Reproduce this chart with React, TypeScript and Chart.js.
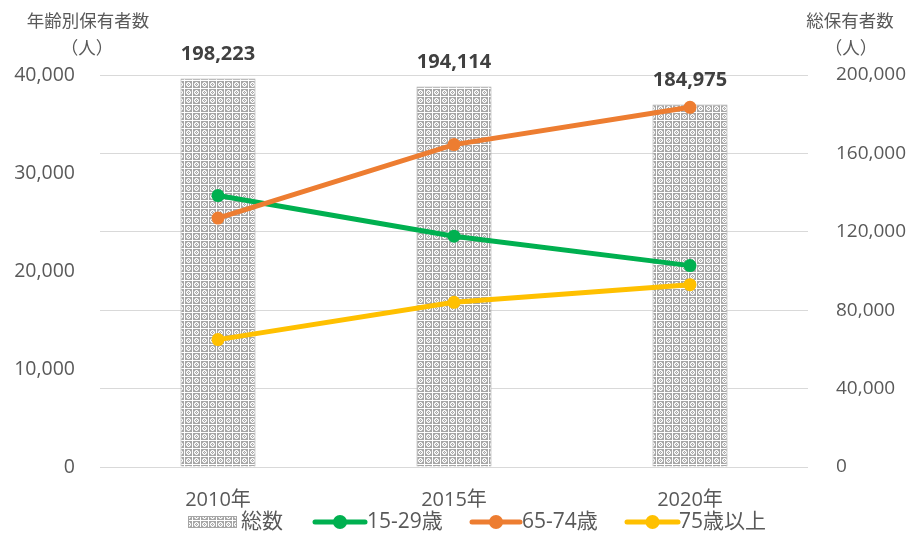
import React, { useEffect, useRef } from "react";
import { Chart, registerables } from "chart.js";

Chart.register(...registerables);

const categories = ["2010年", "2015年", "2020年"];
const totalHolders = [198223, 194114, 184975];
const age15to29 = [27700, 23550, 20550];
const age65to74 = [25400, 32900, 36700];
const age75plus = [13000, 16800, 18600];

const leftTicks = [0, 10000, 20000, 30000, 40000];
const rightTicks = [0, 40000, 80000, 120000, 160000, 200000];

const GREEN = "#00B050";
const ORANGE = "#ED7D31";
const YELLOW = "#FFC000";
const TEXT = "#595959";
const FONT = "'Open Sans', 'Noto Sans CJK JP', sans-serif";
const CJK = "'Noto Sans CJK JP', sans-serif";

function makePattern(): CanvasPattern | string {
  const c = document.createElement("canvas");
  c.width = 8;
  c.height = 8;
  const g = c.getContext("2d");
  if (!g) return "#BFBFBF";
  g.fillStyle = "#A6A6A6";
  g.fillRect(0, 0, 8, 8);
  g.fillStyle = "#FFFFFF";
  g.fillRect(0, 0, 8, 1);
  g.fillRect(0, 0, 1, 8);
  const ring = [
    [4, 2], [3, 3], [5, 3], [2, 4], [6, 4], [3, 5], [5, 5], [4, 6],
  ];
  ring.forEach(([x, y]) => g.fillRect(x, y, 1, 1));
  g.fillStyle = "#E0E0E0";
  const soft = [[3, 2], [5, 2], [2, 3], [6, 3], [2, 5], [6, 5], [3, 6], [5, 6], [4, 4]];
  soft.forEach(([x, y]) => g.fillRect(x, y, 1, 1));
  const p = g.createPattern(c, "repeat");
  return p || "#BFBFBF";
}

export default function App() {
  const ref = useRef<HTMLCanvasElement | null>(null);

  useEffect(() => {
    const canvas = ref.current;
    if (!canvas) return;
    const pattern = makePattern();

    const overlay = {
      id: "overlay",
      afterDraw(chart: any) {
        const ctx = chart.ctx as CanvasRenderingContext2D;
        ctx.save();
        // bar value labels
        const meta = chart.getDatasetMeta(3);
        ctx.font = `bold 20px ${FONT}`;
        ctx.fillStyle = "#404040";
        ctx.textAlign = "center";
        ctx.textBaseline = "middle";
        meta.data.forEach((el: any, i: number) => {
          ctx.fillText(totalHolders[i].toLocaleString("en-US"), el.x, el.y - 24);
        });
        // axis titles
        ctx.font = `17.5px ${CJK}`;
        ctx.fillStyle = TEXT;
        ctx.fillText("年齢別保有者数", 88, 20);
        ctx.fillText("（人）", 87, 47);
        ctx.fillText("総保有者数", 850, 20);
        ctx.fillText("（人）", 851, 47);
        // legend
        const ly = 522;
        ctx.fillStyle = pattern as any;
        ctx.fillRect(188, 516, 49, 12);
        ctx.strokeStyle = "#A6A6A6";
        ctx.lineWidth = 1;
        ctx.strokeRect(188.5, 516.5, 48, 11);
        ctx.font = `21px ${FONT}`;
        ctx.fillStyle = TEXT;
        ctx.textAlign = "left";
        ctx.fillText("総数", 241, ly);
        const items = [
          { color: GREEN, x1: 313, x2: 367, label: "15-29歳", tx: 367 },
          { color: ORANGE, x1: 470, x2: 522, label: "65-74歳", tx: 522 },
          { color: YELLOW, x1: 625, x2: 680, label: "75歳以上", tx: 679 },
        ];
        items.forEach((it) => {
          ctx.strokeStyle = it.color;
          ctx.lineWidth = 5;
          ctx.lineCap = "round";
          ctx.beginPath();
          ctx.moveTo(it.x1 + 2, ly);
          ctx.lineTo(it.x2 - 2, ly);
          ctx.stroke();
          ctx.fillStyle = it.color;
          ctx.beginPath();
          ctx.arc((it.x1 + it.x2) / 2, ly, 7, 0, Math.PI * 2);
          ctx.fill();
          ctx.fillStyle = TEXT;
          ctx.fillText(it.label, it.tx, ly);
        });
        ctx.restore();
      },
    };

    const lineDs = (label: string, data: number[], color: string, order: number) => ({
      type: "line" as const,
      label,
      data,
      borderColor: color,
      backgroundColor: color,
      borderWidth: 5,
      pointRadius: 6.5,
      pointHoverRadius: 6.5,
      pointBackgroundColor: color,
      pointBorderColor: color,
      pointBorderWidth: 0,
      tension: 0,
      yAxisID: "y",
      order,
    });

    const chart = new Chart(canvas, {
      type: "bar",
      data: {
        labels: categories,
        datasets: [
          lineDs("15-29歳", age15to29, GREEN, 2),
          lineDs("65-74歳", age65to74, ORANGE, 1),
          lineDs("75歳以上", age75plus, YELLOW, 3),
          {
            type: "bar" as const,
            label: "総数",
            data: totalHolders,
            backgroundColor: pattern as any,
            borderColor: "#A6A6A6",
            borderWidth: 1,
            barPercentage: 0.318,
            categoryPercentage: 1,
            yAxisID: "y1",
            order: 10,
          } as any,
        ],
      },
      options: {
        responsive: false,
        animation: false,
        devicePixelRatio: 1,
        layout: { padding: { top: 75, left: 0, right: 0, bottom: 0 } },
        plugins: {
          legend: { display: false },
          tooltip: { enabled: false },
        },
        scales: {
          x: {
            offset: true,
            grid: { display: false, drawTicks: false },
            border: { display: false },
            ticks: { color: TEXT, font: { size: 20, family: FONT }, padding: 21 },
            afterFit(scale: any) {
              scale.height = 66;
            },
          },
          y: {
            position: "left",
            min: 0,
            max: 40000,
            afterBuildTicks(scale: any) {
              scale.ticks = leftTicks.map((v) => ({ value: v }));
            },
            grid: { display: false, drawTicks: false },
            border: { display: false },
            ticks: {
              color: TEXT,
              font: { size: 19.5, family: FONT },
              padding: 25,
              callback: (v: any) => Number(v).toLocaleString("en-US"),
            },
            afterFit(scale: any) {
              scale.width = 100;
            },
          },
          y1: {
            position: "right",
            min: 0,
            max: 200000,
            afterBuildTicks(scale: any) {
              scale.ticks = rightTicks.map((v) => ({ value: v }));
            },
            grid: { color: "#D9D9D9", lineWidth: 1, drawTicks: false },
            border: { display: false },
            ticks: {
              color: TEXT,
              font: { size: 19, family: FONT },
              padding: 28,
              callback: (v: any) => Number(v).toLocaleString("en-US"),
            },
            afterFit(scale: any) {
              scale.width = 98;
            },
          },
        },
      } as any,
      plugins: [overlay],
    });

    return () => chart.destroy();
  }, []);

  return (
    <div style={{ position: "fixed", left: 0, top: 0, width: 906, height: 533, background: "#fff" }}>
      <canvas ref={ref} width={906} height={533} style={{ display: "block" }} />
    </div>
  );
}
